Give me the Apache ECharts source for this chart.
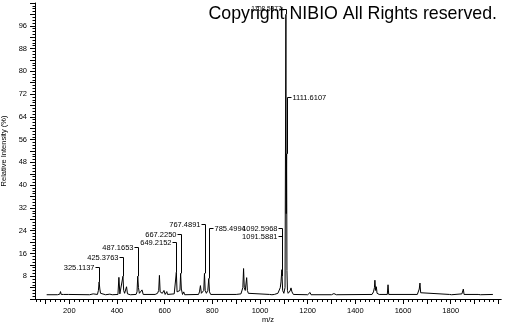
<!DOCTYPE html>
<html><head><meta charset="utf-8">
<script src="https://cdn.jsdelivr.net/npm/echarts@6/dist/echarts.min.js"></script>
<style>html,body{margin:0;padding:0;background:#fff}#c{width:505px;height:325px}</style>
</head><body><div id="c"></div>
<script>
// spectrum profile (m/z, relative intensity %)
const mzValues = [105,150,160,163,166,170,175,196,199,202,285,290,293,300,304,318,322,325,328,331,335,352,356,360,370,376,380,404,408,412,418,425,428,432,440,444,452,456,480,484,487,490,494,500,505,510,560,570,575,578,581,586,590,597,602,609,612,640,646,649,652,658,664,667,670,675,680,684,742,746,750,754,760,764,767,770,775,781,785,788,793,900,920,925,928,931,934,938,944,947,951,956,1040,1045,1050,1060,1068,1075,1080,1085,1088,1091.6,1092.6,1095,1100,1105,1108.6,1110,1111.6,1113,1115,1118,1122,1126,1130,1134,1140,1200,1210,1214,1300,1310,1316,1320,1470,1476,1480,1482,1485,1488,1491,1495,1500,1534,1537,1540,1660,1665,1668,1671,1674,1678,1795,1800,1804,1847,1850,1853,1856,1915,1920,1925,1977];
const intensities = [1.5,1.5,1.7,2.6,1.6,2.2,1.6,1.6,2.1,1.5,1.5,1.9,1.5,1.8,1.5,1.6,3,6,3.5,2,1.5,1.5,2.0,1.5,1.7,2.4,1.5,1.6,7.6,1.8,2,8,3,2,4.3,1.8,2.5,1.5,1.6,2.5,8,4,2,1.8,3.2,1.6,1.6,2,3,8.3,2.5,3,2,3,1.6,2.6,1.6,1.8,2,9.4,2.5,2,3,9,3.5,1.6,2.5,1.5,1.6,2.5,4.7,2,1.8,3,9,3,2,3,7.2,2.5,1.6,1.6,1.8,2.5,4,10.7,4,3,7.5,3,2,1.6,1.6,2.1,1.5,1.6,1.8,2,2.3,4,6,10.3,8,3,2,4,100,30,51,10,3,2,2.5,2.8,3.9,2.5,1.6,1.5,2.3,1.5,1.5,1.9,1.8,1.5,1.6,2.5,4,6.6,3,4.3,2,2.6,1.6,1.6,5,1.6,1.6,2.3,3.5,5.6,2.2,1.6,1.6,2.3,1.5,1.8,2.5,3.5,1.6,1.6,2,1.5,1.6];

// annotated peaks
const peakLabels = ['325.1137','425.3763','487.1653','649.2152','667.2250','767.4891','785.4994','1092.5968','1091.5881','1108.5977','1111.6107'];
const peakMz = [325.1137,425.3763,487.1653,649.2152,667.2250,767.4891,785.4994,1092.5968,1091.5881,1108.5977,1111.6107];
const peakTops = [6,8,8,9.4,9,9,7.2,8,10.3,100,51];
const labelLevels = [11.4,14.6,18.4,19.9,23,26.2,25.1,25.1,22,102,70.8];
const labelSides = ['left','left','left','left','left','left','right','left','left','left','right'];

// axis ticks
const xLabelValues = [200,400,600,800,1000,1200,1400,1600,1800];
const xMajorTicks = [100,200,300,400,500,600,700,800,900,1000,1100,1200,1300,1400,1500,1600,1700,1800,1900,2000];
const xMinorTicks = [];
for (let v = 60; v <= 2000; v += 20) xMinorTicks.push(v);
const yLabelValues = [8,16,24,32,40,48,56,64,72,80,88,96];

const FONT = '"Liberation Sans", Arial, sans-serif';
const chart = echarts.init(document.getElementById('c'), null, {renderer: 'canvas'});

const baseX = {
  type: 'value', min: 56, max: 2011, gridIndex: 0, position: 'bottom',
  splitLine: {show: false},
  axisLine: {show: true, onZero: false, lineStyle: {color: '#000', width: 1}}
};

chart.setOption({
  animation: false,
  backgroundColor: '#fff',
  title: {
    text: 'Copyright NIBIO All Rights reserved.',
    right: 3, top: 0,
    textStyle: {fontFamily: FONT, fontSize: 17.8, fontWeight: 'normal', color: '#000'}
  },
  grid: {left: 35, right: 4, top: 3, bottom: 26, containLabel: false, outerBoundsMode: 'none'},
  xAxis: [
    Object.assign({}, baseX, {
      name: 'm/z', nameLocation: 'middle', nameGap: 17, nameMoveOverlap: false,
      nameTextStyle: {fontFamily: FONT, fontSize: 7.5, color: '#000'},
      axisTick: {show: true, customValues: xMinorTicks, length: 3, lineStyle: {color: '#000'}},
      axisLabel: {show: true, customValues: xLabelValues, margin: 8, fontFamily: FONT, fontSize: 7.5, color: '#000',
                  formatter: v => String(v)}
    }),
    Object.assign({}, baseX, {
      axisTick: {show: true, customValues: xMajorTicks, length: 5, lineStyle: {color: '#000'}},
      axisLabel: {show: false}
    })
  ],
  yAxis: {
    type: 'value', min: 0, max: 104, interval: 4,
    name: 'Relative Intensity (%)', nameLocation: 'middle', nameGap: 27, nameMoveOverlap: false,
    nameTextStyle: {fontFamily: FONT, fontSize: 7.5, color: '#000'},
    splitLine: {show: false},
    axisLine: {show: true, lineStyle: {color: '#000', width: 1}},
    axisTick: {show: true, length: 5, lineStyle: {color: '#000'}},
    minorTick: {show: true, splitNumber: 4, length: 2.5, lineStyle: {color: '#000'}},
    axisLabel: {
      margin: 8, fontFamily: FONT, fontSize: 7.5, color: '#000',
      formatter: v => yLabelValues.indexOf(v) >= 0 ? String(v) : ''
    }
  },
  series: [
    {
      type: 'line', xAxisIndex: 0, yAxisIndex: 0,
      data: mzValues.map((m, i) => [m, intensities[i]]),
      showSymbol: false, symbol: 'none',
      lineStyle: {color: '#000', width: 1},
      silent: true
    },
    {
      type: 'custom', xAxisIndex: 0, yAxisIndex: 0,
      data: peakMz.map((m, i) => [m, peakTops[i], labelLevels[i]]),
      silent: true,
      renderItem: function (params, api) {
        const i = params.dataIndex;
        const p0 = api.coord([api.value(0), api.value(1)]);
        const p1 = api.coord([api.value(0), api.value(2)]);
        const x = Math.round(p0[0]) + 0.5;
        const yl = Math.round(p1[1]) + 0.5;
        const left = labelSides[i] === 'left';
        const dx = left ? -4 : 4;
        return {
          type: 'group',
          children: [
            {type: 'polyline', shape: {points: [[x, p0[1]], [x, yl], [x + dx, yl]]},
             style: {stroke: '#000', lineWidth: 1, fill: null}},
            {type: 'text', x: x + dx + (left ? -1 : 1), y: yl,
             style: {text: peakLabels[i], align: left ? 'right' : 'left', verticalAlign: 'middle',
                     fontFamily: FONT, fontSize: i === 9 ? 6.5 : 7.5, fill: '#000'}}
          ]
        };
      }
    }
  ]
});
</script>
</body></html>
